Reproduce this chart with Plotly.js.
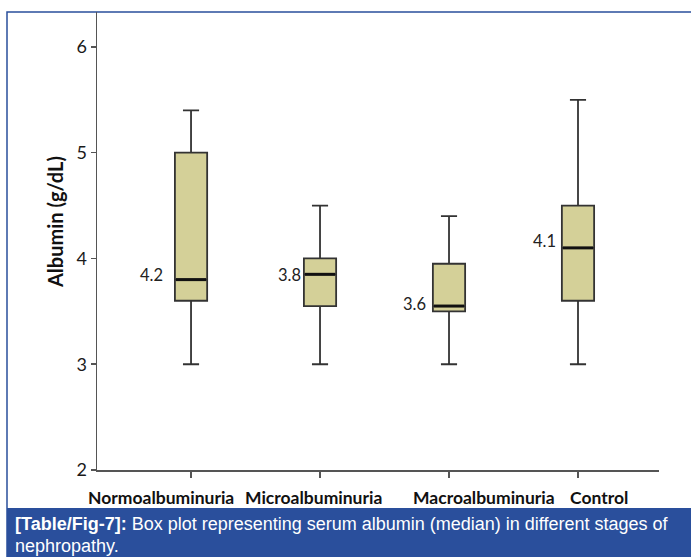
<!DOCTYPE html>
<html>
<head>
<meta charset="utf-8">
<script src="https://cdn.plot.ly/plotly-3.0.1.min.js"></script>
<style>
html,body{margin:0;padding:0;background:#fff;}
#chart{width:691px;height:557px;}
</style>
</head>
<body>
<div id="chart"></div>
<script>
// ---- data ----
const categories = ["Normoalbuminuria", "Microalbuminuria", "Macroalbuminuria", "Control"];
const lowerWhisker = [3.0, 3.0, 3.0, 3.0];
const q1Values     = [3.6, 3.55, 3.5, 3.6];
const medianValues = [3.8, 3.85, 3.55, 4.1];
const q3Values     = [5.0, 4.0, 3.95, 4.5];
const upperWhisker = [5.4, 4.5, 4.4, 5.5];
const valueLabels  = ["4.2", "3.8", "3.6", "4.1"];
const yTickValues  = [2, 3, 4, 5, 6];

// ---- layout helpers (positions / styles) ----
const W = 691, H = 557;
const M = {l: 97, r: 32, t: 12, b: 87};
const PW = W - M.l - M.r, PH = H - M.t - M.b;
const px2x = p => (p - M.l) / PW;          // pixel -> paper x
const py2y = p => (H - M.b - p) / PH;      // pixel -> paper y

const boxWidth = 0.25;
const labelShiftX = [-0.233, -0.047, 0.271, 0.163]; // category label offsets
const valueShiftX = [-0.31, -0.24, -0.27, -0.256];
const valueShiftY = [0.04, -0.01, 0.02, 0.065];

const blue = "#2a4f9c";
const fill = "rgb(212,208,152)";
const lineCol = "#333333";
const fontFam = "Lato, 'Open Sans', sans-serif";
const capFont = "'Liberation Sans', Arial, sans-serif";

const trace = {
  type: "box",
  x: categories,
  q1: q1Values,
  median: medianValues,
  q3: q3Values,
  lowerfence: lowerWhisker,
  upperfence: upperWhisker,
  width: boxWidth,
  whiskerwidth: 0.5,
  fillcolor: fill,
  line: {color: lineCol, width: 1.8},
  boxpoints: false,
  hoverinfo: "skip",
  showlegend: false
};

const shapes = [];
// thick median lines
categories.forEach((c, i) => {
  shapes.push({
    type: "line", xref: "x", yref: "y", layer: "above",
    x0: i - boxWidth / 2 + 0.008, x1: i + boxWidth / 2 - 0.008,
    y0: medianValues[i], y1: medianValues[i],
    line: {color: "#111", width: 3}
  });
});
// outer frame
shapes.push({
  type: "rect", xref: "paper", yref: "paper", layer: "below",
  x0: px2x(7), x1: px2x(720), y0: py2y(12), y1: py2y(600),
  line: {color: blue, width: 1.5}, fillcolor: "rgba(0,0,0,0)"
});
// caption band
shapes.push({
  type: "rect", xref: "paper", yref: "paper", layer: "above",
  x0: px2x(7), x1: px2x(720), y0: py2y(508), y1: py2y(600),
  line: {width: 0}, fillcolor: blue
});

const annotations = [];
categories.forEach((c, i) => {
  annotations.push({
    text: c, xref: "x", yref: "paper",
    x: i + labelShiftX[i], y: py2y(497),
    showarrow: false, xanchor: "center", yanchor: "middle",
    font: {family: fontFam, size: 17.5, color: "#111", weight: "bold"}
  });
  annotations.push({
    text: valueLabels[i], xref: "x", yref: "y",
    x: i + valueShiftX[i], y: medianValues[i] + valueShiftY[i],
    showarrow: false, xanchor: "center", yanchor: "middle",
    font: {family: fontFam, size: 16.5, color: "#222"}
  });
});
// y title
annotations.push({
  text: "<b>Albumin (g/dL)</b>", xref: "paper", yref: "paper",
  x: px2x(55), y: py2y(222), textangle: -90,
  showarrow: false, xanchor: "center", yanchor: "middle",
  font: {family: fontFam, size: 20, color: "#111"}
});
// caption (two lines)
annotations.push({
  text: "<b>[Table/Fig-7]:</b> Box plot representing serum albumin (median) in different stages of",
  xref: "paper", yref: "paper", x: px2x(13), y: py2y(524),
  showarrow: false, xanchor: "left", yanchor: "middle", align: "left",
  font: {family: capFont, size: 18, color: "#ffffff"}
});
annotations.push({
  text: "nephropathy.",
  xref: "paper", yref: "paper", x: px2x(13), y: py2y(546),
  showarrow: false, xanchor: "left", yanchor: "middle", align: "left",
  font: {family: capFont, size: 18, color: "#ffffff"}
});

const layout = {
  width: W, height: H,
  margin: M,
  paper_bgcolor: "#ffffff",
  plot_bgcolor: "#ffffff",
  showlegend: false,
  xaxis: {
    type: "category",
    range: [-0.729, 3.628],
    showgrid: false, zeroline: false,
    showline: true, linecolor: "#555", linewidth: 1.5,
    ticks: "outside", ticklen: 6, tickcolor: "#555", tickwidth: 1.5,
    showticklabels: false,
    fixedrange: true
  },
  yaxis: {
    range: [2, 6.33],
    tickvals: yTickValues,
    showgrid: false, zeroline: false,
    showline: true, linecolor: "#555", linewidth: 1.5,
    ticks: "outside", ticklen: 5, tickcolor: "#555", tickwidth: 1.5,
    tickfont: {family: fontFam, size: 18, color: "#1a1a1a"},
    fixedrange: true
  },
  shapes: shapes,
  annotations: annotations
};

Plotly.newPlot("chart", [trace], layout, {displayModeBar: false, staticPlot: true});
</script>
</body>
</html>
